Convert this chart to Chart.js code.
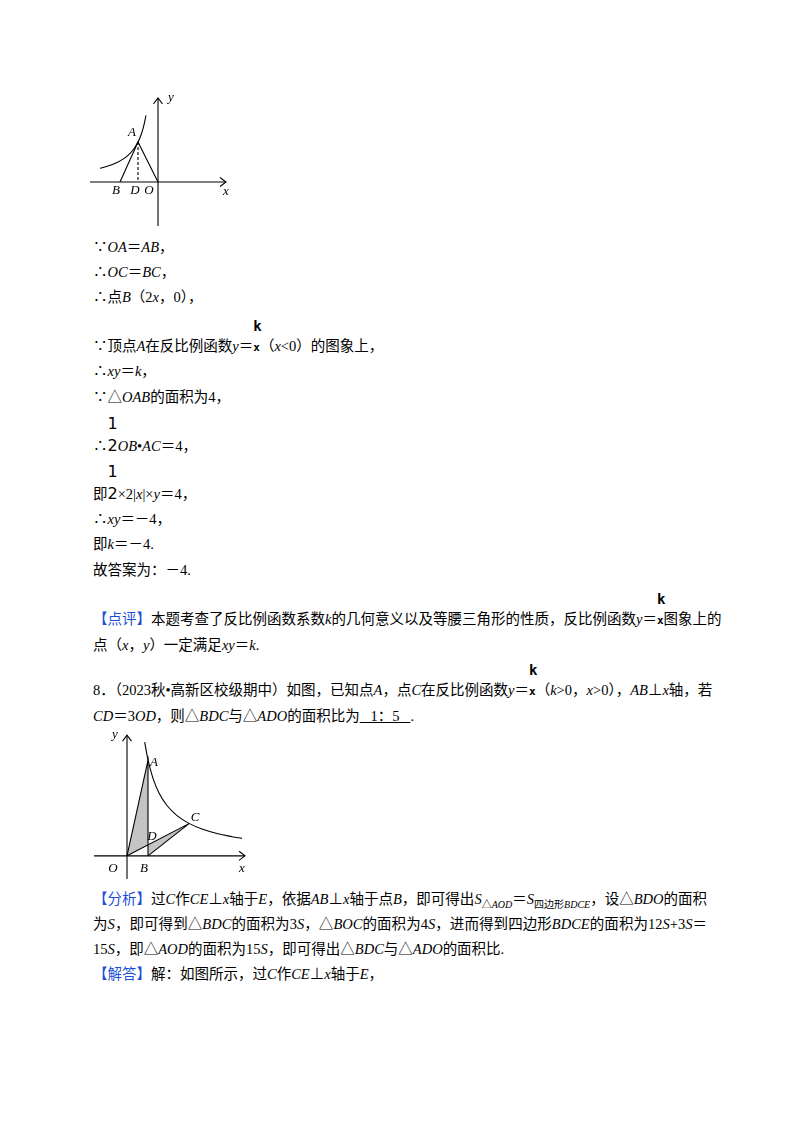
<!DOCTYPE html>
<html><head><meta charset="utf-8">
<script src="https://cdn.jsdelivr.net/npm/chart.js@4"></script>
<style>
body{margin:0;width:800px;height:1132px;background:#fff;position:relative;font-family:"Liberation Serif","Noto Sans CJK SC",serif;font-size:14.5px;color:#000}
.l{position:absolute;left:93px;white-space:nowrap;line-height:18px}
.j{width:614px;text-align:justify;text-align-last:justify}
i{font-style:italic}
.fr{position:relative;display:inline-block;font-family:"DejaVu Sans Mono",monospace;font-size:11px;font-weight:bold}
.fr b{position:absolute;left:0;top:-22px;font-size:14px}
.h{position:relative;display:inline-block;font-size:16px;font-family:"DejaVu Sans";}
.h b{position:absolute;left:0;top:-22px;font-weight:normal}
.bl{color:#1d4fd6}
.c{position:absolute}
</style></head><body>
<div class="c" style="left:88px;top:92px;width:150px;height:140px"><canvas id="c1"></canvas></div>
<div class="c" style="left:88px;top:726px;width:165px;height:155px"><canvas id="c2"></canvas></div>

<div class="l" style="top:238px">∵<i>OA</i>＝<i>AB</i>，</div>
<div class="l" style="top:263px">∴<i>OC</i>＝<i>BC</i>，</div>
<div class="l" style="top:288px">∴点<i>B</i>（2<i>x</i>，0），</div>
<div class="l" style="top:337px">∵顶点<i>A</i>在反比例函数<i>y</i>＝<span class="fr"><b>k</b>x</span>（<i>x</i>&lt;0）的图象上，</div>
<div class="l" style="top:362px">∴<i>xy</i>＝<i>k</i>，</div>
<div class="l" style="top:388px">∵△<i>OAB</i>的面积为4，</div>
<div class="l" style="top:437px">∴<span class="h"><b>1</b>2</span><i>OB</i>•<i>AC</i>＝4，</div>
<div class="l" style="top:485px">即<span class="h"><b>1</b>2</span>×2|<i>x</i>|×<i>y</i>＝4，</div>
<div class="l" style="top:510px">∴<i>xy</i>＝－4，</div>
<div class="l" style="top:535px">即<i>k</i>＝－4.</div>
<div class="l" style="top:561px">故答案为：－4.</div>
<div class="l j" style="top:610px"><span class="bl">【点评】</span>本题考查了反比例函数系数<i>k</i>的几何意义以及等腰三角形的性质，反比例函数<i>y</i>＝<span class="fr"><b>k</b>x</span>图象上的</div>
<div class="l" style="top:636px">点（<i>x</i>，<i>y</i>）一定满足<i>xy</i>＝<i>k</i>.</div>
<div class="l j" style="top:681px">8．（2023秋•高新区校级期中）如图，已知点<i>A</i>，点<i>C</i>在反比例函数<i>y</i>＝<span class="fr"><b>k</b>x</span>（<i>k</i>&gt;0，<i>x</i>&gt;0），<i>AB</i>⊥<i>x</i>轴，若</div>
<div class="l" style="top:707px"><i>CD</i>＝3<i>OD</i>，则△<i>BDC</i>与△<i>ADO</i>的面积比为<u>&nbsp;&nbsp;&nbsp;1：5&nbsp;&nbsp;&nbsp;</u>.</div>
<div class="l j" style="top:890px"><span class="bl">【分析】</span>过<i>C</i>作<i>CE</i>⊥<i>x</i>轴于<i>E</i>，依据<i>AB</i>⊥<i>x</i>轴于点<i>B</i>，即可得出<i>S</i><sub style="font-size:10px">△<i>AOD</i></sub>＝<i>S</i><sub style="font-size:10px">四边形<i>BDCE</i></sub>，设△<i>BDO</i>的面积</div>
<div class="l j" style="top:915px">为<i>S</i>，即可得到△<i>BDC</i>的面积为3<i>S</i>，△<i>BOC</i>的面积为4<i>S</i>，进而得到四边形<i>BDCE</i>的面积为12<i>S</i>+3<i>S</i>＝</div>
<div class="l" style="top:940px">15<i>S</i>，即△<i>AOD</i>的面积为15<i>S</i>，即可得出△<i>BDC</i>与△<i>ADO</i>的面积比.</div>
<div class="l" style="top:965px"><span class="bl">【解答】</span>解：如图所示，过<i>C</i>作<i>CE</i>⊥<i>x</i>轴于<i>E</i>，</div>

<script>
// Figure 1 (y = -8/x)
const f1CurveX=[-5.8,-5,-4.2,-3.5,-3,-2.5,-2,-1.7,-1.45,-1.2];
const f1K=-8;
const f1A=[-2,4], f1B=[-3.8,0], f1D=[-2,0], f1O=[0,0];
// Figure 2 (y = 20/x)
const f2CurveX=[1.77,2.1,2.6,3.2,4,5,6.2,7.5,9,10.5,11.5];
const f2K=20;
const f2A=[2.1,9.5], f2B=[2.1,0], f2C=[6.2,3.2], f2D=[2.1,1.08], f2O=[0,0];
const labels1=[['A',-2.6,4.9],['B',-4.2,-0.9],['D',-2.3,-0.9],['O',-0.9,-0.9],['x',6.8,-1.0],['y',1.3,8.4]];
const labels2=[['A',2.7,9.3],['C',6.8,3.8],['D',2.5,1.9],['O',-1.4,-1.3],['B',1.7,-1.3],['x',11.5,-1.3],['y',-1.2,12.0]];

const P=a=>({x:a[0],y:a[1]});
function seg(pts,extra){return Object.assign({data:pts.map(P),borderColor:'#000',borderWidth:1.1,pointRadius:0,showLine:true,fill:false,tension:0},extra||{});}
const textPlugin={id:'t',
beforeDatasetsDraw(ch){const c=ch.ctx;c.save();c.fillStyle='#c4c4c4';
 ch.data.datasets.forEach(d=>{if(!d.poly)return;c.beginPath();d.data.forEach((p,i)=>{const X=ch.scales.x.getPixelForValue(p.x),Y=ch.scales.y.getPixelForValue(p.y);i?c.lineTo(X,Y):c.moveTo(X,Y);});c.closePath();c.fill();});c.restore();},
afterDatasetsDraw(ch){const L=ch.options.plugins.t.items;const c=ch.ctx;c.save();c.font='italic 13px "Liberation Serif"';c.fillStyle='#000';c.textAlign='center';c.textBaseline='middle';
for(const [s,x,y] of L){c.fillText(s,ch.scales.x.getPixelForValue(x),ch.scales.y.getPixelForValue(y));}c.restore();}};
function mk(id,ds,xr,yr,items){new Chart(document.getElementById(id),{type:'scatter',data:{datasets:ds},plugins:[textPlugin],
options:{animation:false,responsive:true,maintainAspectRatio:false,layout:{padding:0},
scales:{x:{type:'linear',min:xr[0],max:xr[1],display:false},y:{type:'linear',min:yr[0],max:yr[1],display:false}},
plugins:{legend:{display:false},tooltip:{enabled:false},t:{items}}}});}

mk('c1',[
 seg(f1CurveX.map(x=>[x,f1K/x]),{tension:0.4}),
 seg([[-6.8,0],[6.8,0]]),seg([[6.2,0.45],[6.8,0],[6.2,-0.45]]),
 seg([[0,-4.4],[0,8.4]]),seg([[-0.45,7.8],[0,8.4],[0.45,7.8]]),
 seg([f1B,f1A,f1O]),
 seg([f1A,f1D],{borderDash:[3,2]})
],[-7,8],[-5,9],labels1);

mk('c2',[
 seg([f2O,f2A,f2D],{poly:true,borderWidth:0,showLine:false}),
 seg([f2B,f2D,f2C],{poly:true,borderWidth:0,showLine:false}),
 seg(f2CurveX.map(x=>[x,f2K/x]),{tension:0.4}),
 seg([[-3.3,0],[11.8,0]]),seg([[11.2,0.45],[11.8,0],[11.2,-0.45]]),
 seg([[0,-2.3],[0,12]]),seg([[-0.45,11.4],[0,12],[0.45,11.4]]),
 seg([f2O,f2A,f2B]),seg([f2O,f2C,f2B])
],[-3.9,12.6],[-2.5,12.9],labels2);
</script>
</body></html>
